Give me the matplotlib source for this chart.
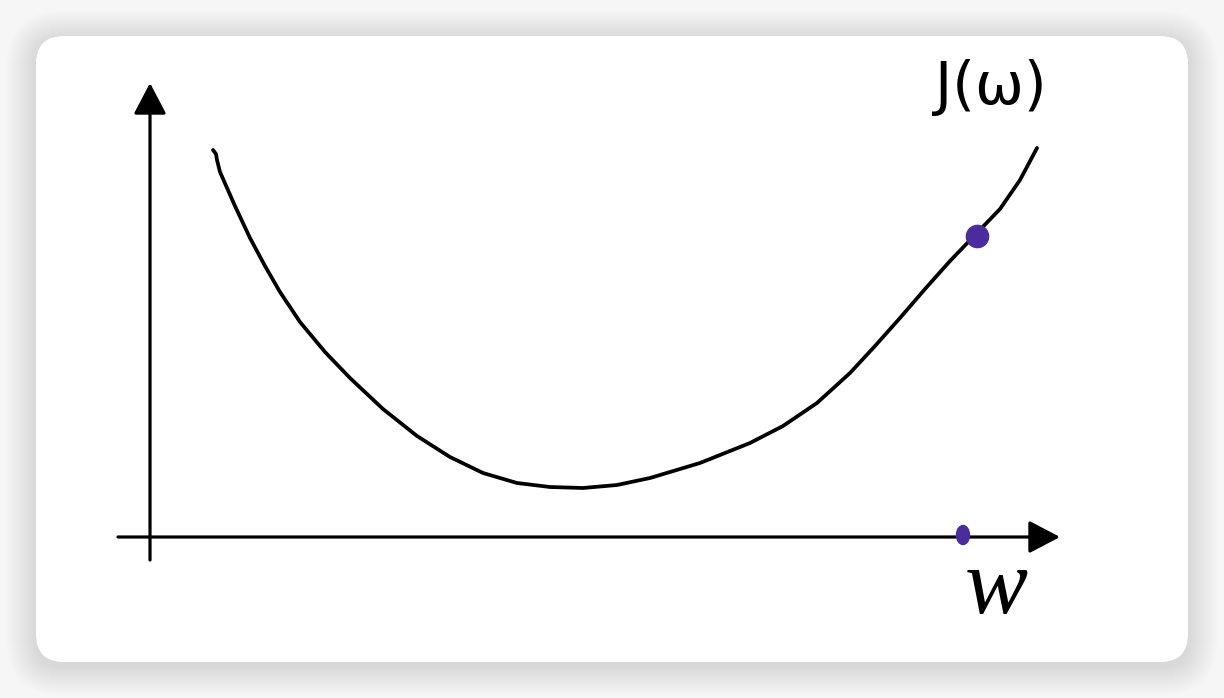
import numpy as np
import matplotlib.pyplot as plt
from matplotlib.patches import FancyBboxPatch, Ellipse

# cost curve J(w)
w_vals = [0.63, 0.66, 0.67, 0.70, 0.85, 1.00, 1.15, 1.30, 1.50, 1.75, 2.00, 2.33,
          2.67, 3.00, 3.33, 3.67, 4.00, 4.33, 4.67, 5.00, 5.50, 6.00, 6.33, 6.67,
          7.00, 7.25, 7.50, 7.75, 8.00, 8.25, 8.50, 8.70, 8.87]
j_vals = [3.87, 3.83, 3.77, 3.65, 3.31, 2.99, 2.71, 2.45, 2.15, 1.85, 1.59, 1.28,
          1.01, 0.80, 0.64, 0.54, 0.50, 0.49, 0.52, 0.59, 0.74, 0.94, 1.11, 1.34,
          1.64, 1.91, 2.19, 2.48, 2.76, 3.02, 3.28, 3.57, 3.89]

# current point on the curve and its projection on the w axis
w_point = 8.27
j_point = 3.01
w_tick = 8.13

dot_color = '#4a2c9c'

fig = plt.figure(figsize=(12.24, 6.98), dpi=100)
fig.patch.set_facecolor('#f6f6f6')

# background card with soft shadow (pixel coords)
bg = fig.add_axes([0, 0, 1, 1])
bg.set_xlim(0, 1224)
bg.set_ylim(698, 0)
bg.axis('off')
for i in range(30):
    g = 30 - i
    bg.add_patch(FancyBboxPatch((36 - g, 36 - g + 4), 1152 + 2 * g, 626 + 2 * g,
                                boxstyle='round,pad=0,rounding_size=%d' % (28 + g),
                                facecolor='black', edgecolor='none', alpha=0.0035))
bg.add_patch(FancyBboxPatch((36, 36), 1152, 626,
                            boxstyle='round,pad=0,rounding_size=28',
                            facecolor='white', edgecolor='none'))

ax = fig.add_axes([0, 0, 1, 1])
ax.set_xlim(-1.5, 10.74)
ax.set_ylim(-1.61, 5.37)
ax.axis('off')
ax.patch.set_alpha(0)

# axes with arrow heads
arrow = dict(arrowstyle='-|>,head_length=0.8,head_width=0.42', mutation_scale=24,
             lw=2.3, color='black', shrinkA=0, shrinkB=0)
ax.annotate('', xy=(0, 4.54), xytext=(0, -0.23), arrowprops=arrow)
ax.annotate('', xy=(9.10, 0), xytext=(-0.32, 0), arrowprops=arrow)

ax.plot(w_vals, j_vals, color='black', lw=2.7, solid_capstyle='round',
        solid_joinstyle='round')

ax.plot([w_point], [j_point], 'o', color=dot_color, markersize=16, zorder=5)
ax.add_patch(Ellipse((w_tick, 0.02), 0.13, 0.19, color=dot_color, zorder=5))

ax.text(8.41, 4.49, 'J(ω)', fontsize=42, ha='center', va='center',
        family='DejaVu Sans')
ax.text(8.46, -0.53, 'w', fontsize=68, ha='center', va='center',
        family='Liberation Serif', style='italic')

fig.savefig('out.png', dpi=100, facecolor=fig.get_facecolor())
